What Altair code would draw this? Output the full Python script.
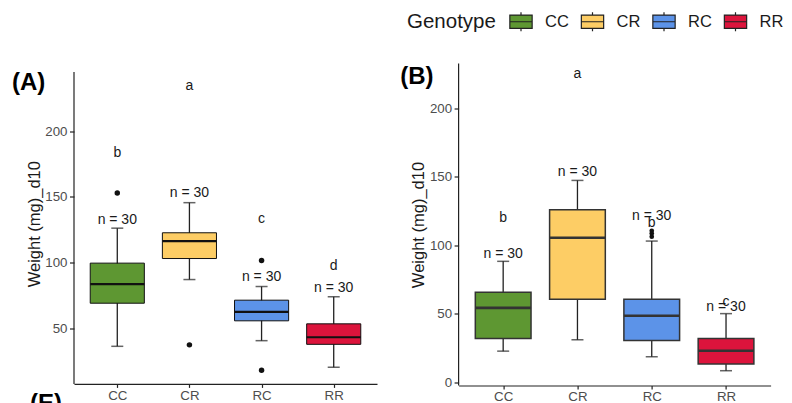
import altair as alt
import pandas as pd

genotypes = ["CC", "CR", "RC", "RR"]
palette = ["#5E9732", "#FDCD65", "#5C93E8", "#DC143C"]
n_labels = ["n = 30", "n = 30", "n = 30", "n = 30"]

# ---- Panel A ----
a_low = [36.2, 87.0, 40.5, 20.2]
a_q1 = [69.0, 103.0, 55.6, 37.7]
a_median = [83.5, 116.2, 62.4, 43.1]
a_q3 = [99.5, 122.6, 71.3, 53.3]
a_high = [126.1, 145.5, 81.7, 73.9]
a_out_genotype = ["CC", "CR", "RC", "RC"]
a_out_value = [152.8, 37.3, 101.5, 17.9]
a_letters = ["b", "a", "c", "d"]
a_letter_at = [183.3, 234.0, 132.8, 97.0]
a_n_at = [132.5, 152.8, 88.8, 80.2]
a_axis_extent = [7.6, 245.0]      # visible y-axis line of panel A
a_domain = [7.6, 251.4]           # panel A scale (top aligned with panel B)
a_ticks = [50, 100, 150, 200]

# ---- Panel B ----
b_low = [22.7, 31.0, 18.6, 8.4]
b_q1 = [31.9, 60.6, 30.5, 13.3]
b_median = [54.3, 105.5, 48.5, 23.0]
b_q3 = [65.7, 126.0, 60.6, 31.9]
b_high = [88.3, 147.4, 103.1, 50.1]
b_out_genotype = ["RC", "RC", "RC"]
b_out_value = [106.3, 108.7, 110.6]
b_letters = ["b", "a", "b", "c"]
b_letter_at = [119.7, 225.4, 116.3, 58.9]
b_n_at = [93.4, 153.7, 121.6, 54.8]
b_axis_extent = [-2.4, 232.8]
b_domain = [-2.4, 232.8]
b_ticks = [0, 50, 100, 150, 200]

FONT = "Liberation Sans"
AXIS_COLOR = "#222222"
box_path = "M-1,-0.6H1V0.6H-1Z M-1,0H1 M0,-0.6V-0.85 M0,0.6V0.85"

color_enc = alt.Color(
    "Genotype:N",
    scale=alt.Scale(domain=genotypes, range=palette),
    legend=alt.Legend(
        title="Genotype", orient="none", legendX=333, legendY=-53.8,
        direction="horizontal", titleOrient="left", titleFontSize=20.5,
        titleFontWeight="normal", titleColor="#1a1a1a", titlePadding=13,
        labelFontSize=16.5, labelColor="#1a1a1a", labelOffset=12,
        columnPadding=9.5, symbolType=box_path, symbolSize=497,
        symbolStrokeColor=AXIS_COLOR, symbolStrokeWidth=1.2, padding=0,
    ),
)


def panel(tag, low, q1, med, q3, high, og, ov, letters, letter_at, n_at,
          ydom, yext, yticks, w, h, stroke, box_sw, med_sw, pt_size, tag_x, tag_y,
          extra_tag=None):
    stats = pd.DataFrame({
        "Genotype": genotypes, "low": low, "q1": q1, "med": med, "q3": q3,
        "high": high, "letter": letters, "letter_at": letter_at,
        "n": n_labels, "n_at": n_at,
    })
    outl = pd.DataFrame({"Genotype": og, "v": ov})
    step = w / 4.2
    bw = 0.75 * step
    x = alt.X(
        "Genotype:N",
        sort=genotypes,
        scale=alt.Scale(type="point", padding=0.6, domain=genotypes),
        axis=alt.Axis(title=None, labelFontSize=13.3, labelColor="#4D4D4D",
                      labelFont=FONT, tickColor=AXIS_COLOR, domainColor=AXIS_COLOR,
                      tickSize=3.5, labelPadding=0.8, labelAngle=0,
                      domainWidth=1.2, tickWidth=1.2, grid=False),
    )
    yscale = alt.Scale(domain=ydom, nice=False, zero=False)
    yaxis = alt.Axis(title="Weight (mg)_d10", values=yticks, grid=False,
                     domain=False,
                     labelFontSize=13.3, labelColor="#4D4D4D", labelFont=FONT,
                     titleFont=FONT, titleFontSize=16.5, titleFontWeight="normal",
                     titleColor="#1a1a1a", titlePadding=2.5, tickSize=4.5,
                     labelPadding=2.5, tickColor=AXIS_COLOR, tickWidth=1.2)
    base = alt.Chart(stats)
    axis_line = alt.Chart(pd.DataFrame({"lo": [yext[0]], "hi": [yext[1]]})).mark_rule(
        color=AXIS_COLOR, strokeWidth=1.2).encode(
        x=alt.value(0), y=alt.Y("lo:Q", scale=yscale, axis=yaxis), y2="hi:Q")
    whisk = base.mark_rule(color=AXIS_COLOR, strokeWidth=1.3).encode(
        x=x, y=alt.Y("low:Q", scale=yscale), y2="high:Q")
    cap_lo = base.mark_tick(color=AXIS_COLOR, size=12, thickness=1.5).encode(
        x=x, y=alt.Y("low:Q", scale=yscale))
    cap_hi = base.mark_tick(color=AXIS_COLOR, size=12, thickness=1.5).encode(
        x=x, y=alt.Y("high:Q", scale=yscale))
    box = base.mark_bar(size=bw, stroke=stroke, strokeWidth=box_sw, opacity=1).encode(
        x=x, y=alt.Y("q1:Q", scale=yscale), y2="q3:Q", color=color_enc)
    median = base.mark_tick(color=stroke, size=bw, thickness=med_sw, opacity=1).encode(
        x=x, y=alt.Y("med:Q", scale=yscale))
    pts = alt.Chart(outl).mark_circle(size=pt_size, color="#111111", opacity=1).encode(
        x=x, y=alt.Y("v:Q", scale=yscale))
    lets = base.mark_text(fontSize=14, color="#1a1a1a", baseline="middle", font=FONT).encode(
        x=x, y=alt.Y("letter_at:Q", scale=yscale), text="letter:N")
    ns = base.mark_text(fontSize=14, color="#1a1a1a", baseline="middle", font=FONT).encode(
        x=x, y=alt.Y("n_at:Q", scale=yscale), text="n:N")
    tagc = alt.Chart(pd.DataFrame({"t": [tag]})).mark_text(
        fontSize=24, fontWeight="bold", align="left", baseline="middle",
        color="#000000", font=FONT).encode(
        x=alt.value(tag_x), y=alt.value(tag_y), text="t:N")
    layers = [axis_line, whisk, cap_lo, cap_hi, box, median, pts, lets, ns, tagc]
    if extra_tag is not None:
        txt, ex, ey = extra_tag
        et = alt.Chart(pd.DataFrame({"t": [txt]})).mark_text(
            fontSize=24, fontWeight="bold", align="left", baseline="top",
            color="#000000", font=FONT).encode(
            x=alt.value(ex), y=alt.value(ey), text="t:N")
        layers.append(et)
    return alt.layer(*layers).properties(width=w, height=h)


pa = panel("(A)", a_low, a_q1, a_median, a_q3, a_high, a_out_genotype, a_out_value,
           a_letters, a_letter_at, a_n_at, a_domain, a_axis_extent, a_ticks, 303, 320.4,
           "#111111", 1.0, 2.2, 30, -62, 19.4, extra_tag=("(E)", -44, 328.5))
pb = panel("(B)", b_low, b_q1, b_median, b_q3, b_high, b_out_genotype, b_out_value,
           b_letters, b_letter_at, b_n_at, b_domain, b_axis_extent, b_ticks, 312, 322,
           "#333333", 1.5, 2.6, 22, -58.4, 13)

chart = alt.hconcat(pa, pb, spacing=22.6).properties(
    padding={"left": 4, "top": 1.5, "right": 0, "bottom": 0}
).configure(font=FONT).configure_view(stroke=None)

chart.save("out.html", embed_options={"renderer": "svg", "actions": False})
